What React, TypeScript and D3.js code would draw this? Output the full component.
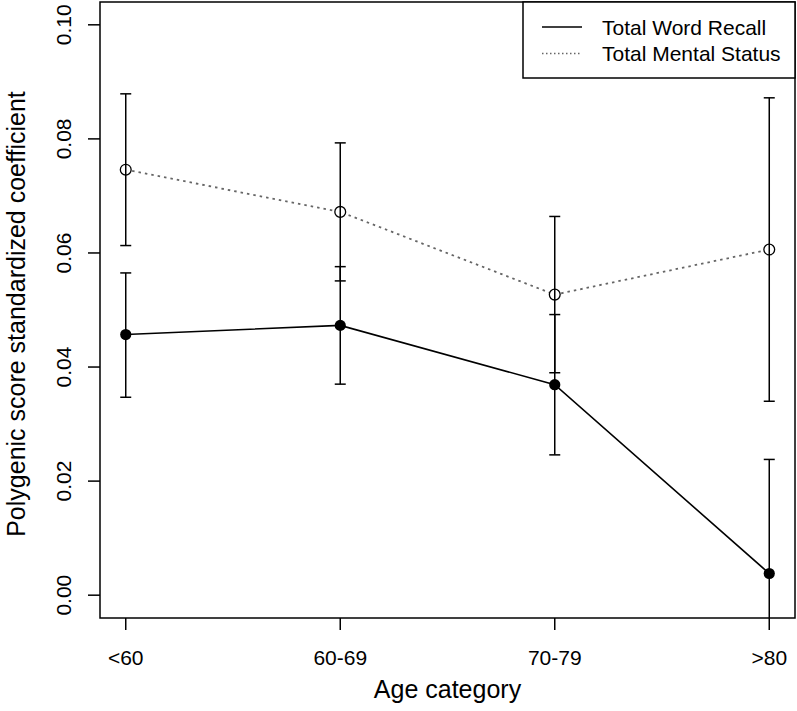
import React from "react";
import * as d3 from "d3";

const categories = ["<60", "60-69", "70-79", ">80"];
const wordRecall = [0.0457, 0.0473, 0.0369, 0.0038];
const wordLow = [0.0347, 0.0370, 0.0246, -0.0162];
const wordHigh = [0.0565, 0.0576, 0.0492, 0.0238];
const mentalStatus = [0.0746, 0.0672, 0.0527, 0.0606];
const mentalLow = [0.0613, 0.0551, 0.0390, 0.0340];
const mentalHigh = [0.0879, 0.0793, 0.0664, 0.0872];
const yTicks = [0, 0.02, 0.04, 0.06, 0.08, 0.1];
const seriesNames = ["Total Word Recall", "Total Mental Status"];

const W = 797, H = 711;
const L = 100, R = 795, T = 2, B = 618;
const FONT = "'Liberation Sans', Arial, Helvetica, sans-serif";

export default function App() {
  const idx = categories.map((_, i) => i + 1);
  const x = d3.scaleLinear().domain([1 - 0.12, 4 + 0.12]).range([L, R]);
  const y = d3.scaleLinear().domain([-0.004, 0.104]).range([B, T]);
  const line = d3.line<number>().x((_, i) => x(idx[i])).y((v) => y(v));
  const cap = 5.5;

  const bars = (lo: number[], hi: number[], key: string) =>
    lo.map((l, i) => {
      const cx = x(idx[i]);
      return (
        <g key={key + i} stroke="#000" strokeWidth={1.5}>
          <line x1={cx} x2={cx} y1={y(l)} y2={y(hi[i])} />
          <line x1={cx - cap} x2={cx + cap} y1={y(l)} y2={y(l)} />
          <line x1={cx - cap} x2={cx + cap} y1={y(hi[i])} y2={y(hi[i])} />
        </g>
      );
    });

  return (
    <svg width={W} height={H} style={{ position: "absolute", left: 0, top: 0, background: "#fff" }} fontFamily={FONT}>
      <defs>
        <clipPath id="plotclip">
          <rect x={L} y={T} width={R - L} height={B - T} />
        </clipPath>
      </defs>
      <rect width={W} height={H} fill="#fff" />
      <g clipPath="url(#plotclip)">
        <path d={line(mentalStatus) || ""} fill="none" stroke="#666" strokeWidth={1.8} strokeDasharray="2.5 4" />
        <path d={line(wordRecall) || ""} fill="none" stroke="#000" strokeWidth={1.6} />
        {mentalStatus.map((v, i) => (
          <circle key={"mb" + i} cx={x(idx[i])} cy={y(v)} r={5.5} fill="#fff" />
        ))}
        {bars(mentalLow, mentalHigh, "m")}
        {bars(wordLow, wordHigh, "w")}
        {mentalStatus.map((v, i) => (
          <circle key={"mc" + i} cx={x(idx[i])} cy={y(v)} r={5.4} fill="none" stroke="#000" strokeWidth={1.3} />
        ))}
        {wordRecall.map((v, i) => (
          <circle key={"wc" + i} cx={x(idx[i])} cy={y(v)} r={5.6} fill="#000" />
        ))}
      </g>
      <rect x={L} y={T} width={R - L} height={B - T} fill="none" stroke="#000" strokeWidth={1.5} />
      {yTicks.map((t) => (
        <g key={"yt" + t}>
          <line x1={L - 12} x2={L} y1={y(t)} y2={y(t)} stroke="#000" strokeWidth={1.5} />
          <text transform={`translate(${71},${y(t)}) rotate(-90)`} textAnchor="middle" fontSize={21} fill="#000">
            {t.toFixed(2)}
          </text>
        </g>
      ))}
      {categories.map((c, i) => (
        <g key={"xt" + c}>
          <line x1={x(idx[i])} x2={x(idx[i])} y1={B} y2={B + 12} stroke="#000" strokeWidth={1.5} />
          <text x={x(idx[i])} y={665} textAnchor="middle" fontSize={21} fill="#000">
            {c}
          </text>
        </g>
      ))}
      <text x={(L + R) / 2} y={698} textAnchor="middle" fontSize={25} fill="#000">
        Age category
      </text>
      <text transform={`translate(${25},${(T + B) / 2 + 4}) rotate(-90)`} textAnchor="middle" fontSize={25} fill="#000">
        Polygenic score standardized coefficient
      </text>
      <rect x={523} y={T} width={R - 523} height={78 - T} fill="#fff" stroke="#000" strokeWidth={1.5} />
      <line x1={542} x2={582} y1={27} y2={27} stroke="#000" strokeWidth={1.5} />
      <line x1={542} x2={582} y1={53.5} y2={53.5} stroke="#666" strokeWidth={1.3} strokeDasharray="1.5 2.5" />
      <text x={602} y={34.5} fontSize={21} fill="#000">{seriesNames[0]}</text>
      <text x={602} y={61} fontSize={21} fill="#000">{seriesNames[1]}</text>
    </svg>
  );
}
